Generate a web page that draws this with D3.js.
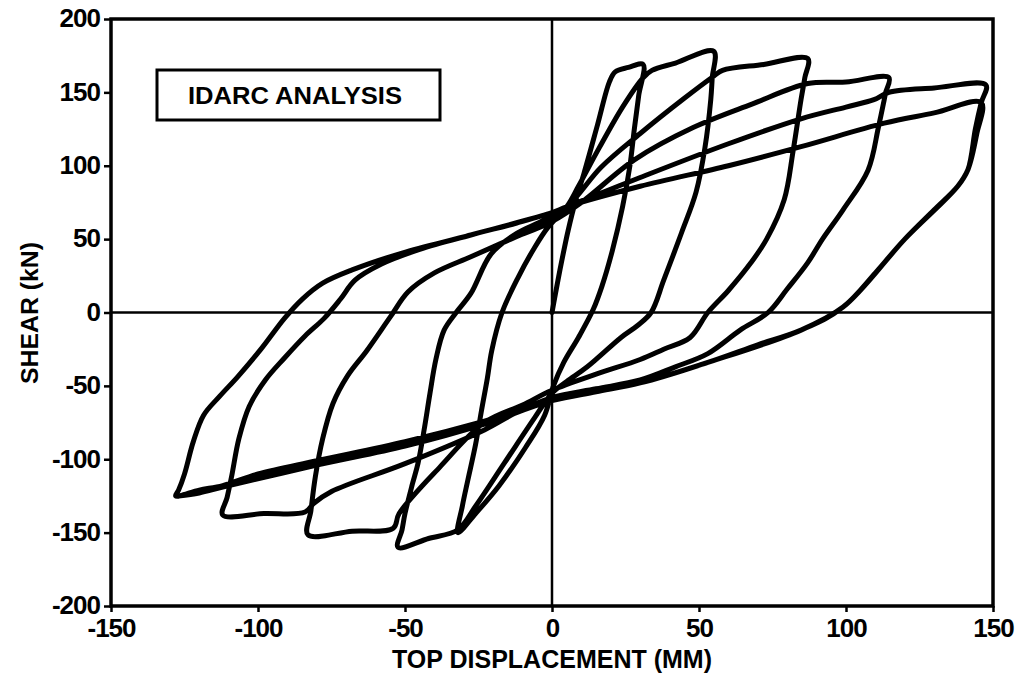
<!DOCTYPE html>
<html>
<head>
<meta charset="utf-8">
<script src="https://cdn.jsdelivr.net/npm/d3@7/dist/d3.min.js"></script>
<style>
  body { margin: 0; background: #fff; }
</style>
</head>
<body>
<div id="grafico"></div>
<script>
// ejes y textos
const xTicks = [-150, -100, -50, 0, 50, 100, 150];
const yTicks = [-200, -150, -100, -50, 0, 50, 100, 150, 200];
const xTitle = "TOP DISPLACEMENT (MM)";
const yTitle = "SHEAR (kN)";
const legendText = "IDARC ANALYSIS";

// historia de carga, tramo por tramo [desplazamiento mm, cortante kN]
const loading1 = [[0,0],[3,32],[5.5,56],[8,76],[10.9,95],[15.5,128],[19.5,157],[21.5,164],[26,167],[31,169]];
const unload1 = [[29.5,148],[28,125],[26.5,100],[24,72],[20.5,42],[17,18],[14,2],[9,-17],[4,-34],[0.5,-50],
  [-2.5,-70],[-9,-92],[-18,-118],[-26,-137],[-32,-150]];
const reload1 = [[-30.5,-132],[-28.6,-114],[-26,-90],[-24,-67],[-22,-45],[-20.5,-26],[-17,0],[-11.5,24],[-6,44],
  [-1.4,58],[5,72],[9,86],[16,112],[24,140],[31,160],[34,165],[42,170],[55,178]];
const unload2 = [[54.5,160],[54,145],[52,112],[49,82],[44,54],[38,22],[33.7,0],[29,-9],[23.5,-17],[12,-37],[5,-47],
  [0,-55],[-6,-72],[-16,-102],[-26,-132],[-32,-148],[-42,-154],[-52.4,-160]];
const reload2 = [[-51,-148],[-50,-137],[-47.5,-117],[-45.6,-103],[-43.5,-80],[-41.5,-55],[-39.5,-32],[-36.7,-12],
  [-32.6,0],[-27.6,13],[-20.7,40],[-12,54],[-3.7,62],[5,72],[16.7,99],[30,122],[45,146],[55,161],[58,165],[72,169],[87,173]];
const unload3 = [[86,160],[84.7,145],[82,110],[79,77],[73,50],[67.7,34],[60,15],[53,0],[47,-17],[38,-25],[30,-32],
  [15,-42],[0,-53],[-10,-63],[-23,-75],[-38,-105],[-52,-137],[-54,-147],[-68,-149],[-83,-151.5]];
const reload3 = [[-82,-135],[-80.5,-112],[-78,-86],[-74.5,-62],[-69.5,-43],[-63,-26],[-55,-3],[-49,14],
  [-40,27],[-27.6,38],[-14,50],[0,62],[10,75],[28,104],[48,126],[68,142],[87,156],[100,157],[114.6,160]];
const unload4 = [[113.5,150],[113,145],[111,126],[107.5,97],[99,70],[92,50],[87,34],[80,16],[73.5,0],[64,-12],
  [53,-28],[42,-37],[30,-46],[15,-52],[0,-58],[-12,-68],[-23,-80],[-50,-103],[-75,-122],[-81,-130],[-84,-136],
  [-98,-137],[-112,-138]];
const reload4 = [[-110.5,-126],[-109,-112],[-106.5,-86],[-103,-64],[-97.5,-46],[-91,-31],[-84,-16],[-77.5,-4],
  [-72,9],[-67,22],[-58,33],[-45,43],[-27.6,52.8],[-12,61],[0,68],[5,72],[30,92],[60,115],[84.7,132],[100,140],
  [109.5,145],[114.6,150],[130,153],[147.6,155]];
const unload5 = [[146,143],[144,125],[141.5,97.5],[138,86],[130,70],[120,50],[110,27],[99,3.7],[84.7,-12],[70,-22],
  [53,-34],[30,-48],[15,-54],[0,-60],[-23,-74],[-50,-88],[-80,-101],[-100,-110],[-112,-118],[-120,-121],[-128,-125]];
const reload5 = [[-127,-121],[-125,-110],[-122,-88],[-118.5,-70],[-113,-57],[-107,-44],[-99,-25],[-91,-4],[-85,9],
  [-78,20],[-68,29],[-51,40.5],[-27.6,52.8],[0,68],[5,72],[30,86],[60,100],[84.7,113],[113,129],[130,136],[146,143]];
const unload6 = [[144.5,122],[141.5,97.5],[138,86],[120,50],[99,3.7],[84.7,-12],[53,-34],[30,-48],[0,-60],[-23,-76],
  [-50,-91],[-80,-104],[-112,-119],[-120,-123],[-127,-125]];

const tramos = [loading1, unload1, reload1, unload2, reload2, unload3, reload3, unload4, reload4, unload5, reload5, unload6];

function draw() {
  var ancho = 1027;
  var alto = 678;

  var svg = d3.select("#grafico")
    .append("svg")
    .attr("width", ancho)
    .attr("height", alto)
    .style("display", "block");

  var x = d3.scaleLinear().domain([-150, 150]).range([111, 993]);
  var y = d3.scaleLinear().domain([-200, 200]).range([606, 19]);

  var fuente = "'Liberation Sans', Arial, sans-serif";

  // ejes con d3
  var ejeY = svg.append("g")
    .attr("transform", "translate(" + x(-150) + ",0)")
    .call(d3.axisLeft(y).tickValues(yTicks).tickSize(7).tickPadding(4).tickFormat(d3.format("d")));
  ejeY.select(".domain").remove();

  var ejeX = svg.append("g")
    .attr("transform", "translate(0," + y(-200) + ")")
    .call(d3.axisBottom(x).tickValues(xTicks).tickSize(6).tickPadding(4).tickFormat(d3.format("d")));
  ejeX.select(".domain").remove();

  svg.selectAll(".tick line")
    .attr("stroke", "#000")
    .attr("stroke-width", 2.5);

  svg.selectAll(".tick text")
    .attr("fill", "#000")
    .attr("font-family", fuente)
    .attr("font-weight", "bold")
    .attr("font-size", 26)
    .attr("letter-spacing", -1)
    .text(function(d){ return d < 0 ? "-" + Math.abs(d) : d; });

  ejeX.selectAll(".tick text").attr("dy", "0.8em");
  ejeY.selectAll(".tick text").attr("dy", "0.3em");

  // lineas de cero
  svg.append("line")
    .attr("x1", x(-150)).attr("x2", x(150))
    .attr("y1", y(0)).attr("y2", y(0))
    .attr("stroke", "#000").attr("stroke-width", 2.5);

  svg.append("line")
    .attr("x1", x(0)).attr("x2", x(0))
    .attr("y1", y(200)).attr("y2", y(-200))
    .attr("stroke", "#000").attr("stroke-width", 2.5);

  // marco
  svg.append("rect")
    .attr("x", x(-150)).attr("y", y(200))
    .attr("width", x(150) - x(-150))
    .attr("height", y(-200) - y(200))
    .attr("fill", "none")
    .attr("stroke", "#000")
    .attr("stroke-width", 3.5);

  // curva de histeresis
  var linea = d3.line()
    .x(function(d){ return x(d[0]); })
    .y(function(d){ return y(d[1]); })
    .curve(d3.curveCatmullRom.alpha(0.5));

  svg.append("path")
    .datum(tramos.flat())
    .attr("d", linea)
    .attr("fill", "none")
    .attr("stroke", "#000")
    .attr("stroke-width", 5)
    .attr("stroke-linejoin", "round")
    .attr("stroke-linecap", "round");

  // leyenda
  svg.append("rect")
    .attr("x", 157).attr("y", 70)
    .attr("width", 283).attr("height", 50)
    .attr("fill", "#fff")
    .attr("stroke", "#000")
    .attr("stroke-width", 3);

  svg.append("text")
    .text(legendText)
    .attr("x", 188)
    .attr("y", 96)
    .attr("dy", "0.35em")
    .attr("font-family", fuente)
    .attr("font-weight", "bold")
    .attr("font-size", 24)
    .attr("textLength", 214)
    .attr("lengthAdjust", "spacingAndGlyphs")
    .attr("fill", "#000");

  // titulos de ejes
  svg.append("text")
    .text(xTitle)
    .attr("x", 552)
    .attr("y", 668)
    .style("text-anchor", "middle")
    .attr("font-family", fuente)
    .attr("font-weight", "bold")
    .attr("font-size", 25)
    .attr("textLength", 320)
    .attr("lengthAdjust", "spacingAndGlyphs")
    .attr("fill", "#000");

  svg.append("text")
    .text(yTitle)
    .attr("transform", "translate(38,313) rotate(-90)")
    .style("text-anchor", "middle")
    .attr("font-family", fuente)
    .attr("font-weight", "bold")
    .attr("font-size", 24)
    .attr("textLength", 142)
    .attr("lengthAdjust", "spacingAndGlyphs")
    .attr("fill", "#000");
}

draw();
</script>
</body>
</html>
